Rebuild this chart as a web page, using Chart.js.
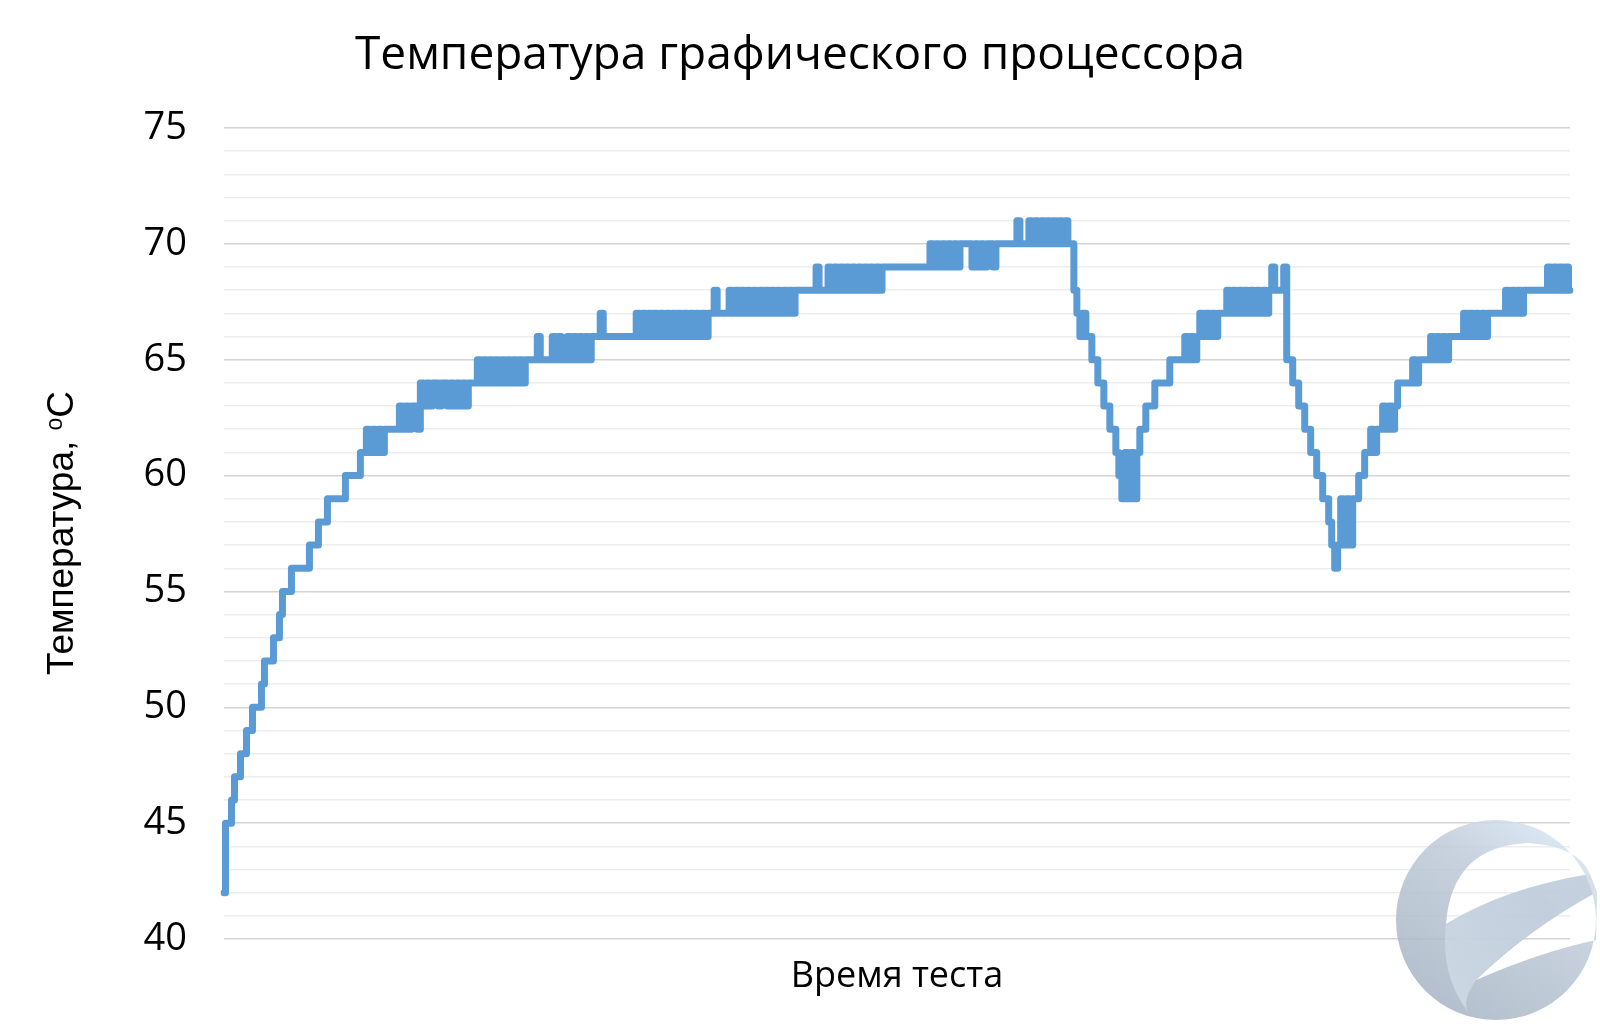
<!DOCTYPE html>
<html lang="ru">
<head>
<meta charset="UTF-8">
<title>Температура графического процессора</title>
<script src="https://cdn.jsdelivr.net/npm/chart.js"></script>
<style>
    html, body {
        margin: 0;
        padding: 0;
        background: #ffffff;
    }
    #wrap {
        width: 1600px;
        height: 1028px;
    }
</style>
</head>
<body>
<div id="wrap">
    <canvas id="gpuChart" width="1600" height="1028"></canvas>
</div>
<script>
    // подписи
    const chartTitle = 'Температура графического процессора';
    const xTitle = 'Время теста';
    const yTitleMain = 'Температура, ';
    const yTitleSup = 'o';
    const yTitleUnit = 'C';

    // шкала Y
    const yMin = 40;
    const yMax = 75;
    const yMajor = 5;

    // температура GPU по ходу теста
    const gpuTemp = [
        42, 45, 45, 46, 47, 47, 48, 48, 49, 49,
        50, 50, 50, 51, 52, 52, 52, 53, 53, 54, 55, 55, 55,
        56, 56, 56, 56, 56, 56, 57, 57, 57, 58, 58, 58,
        59, 59, 59, 59, 59, 59, 60, 60, 60, 60, 60, 61, 61,
        62, 61, 62, 61, 62, 61, 62, 62, 62, 62, 62,
        63, 62, 63, 62, 63, 63, 62, 64, 63, 64, 63, 64, 64, 63, 64, 64,
        63, 64, 63, 64, 63, 64, 63, 64, 64, 64,
        65, 64, 65, 64, 65, 64, 65, 64, 65, 64, 65, 64, 65, 64, 65, 64, 65,
        65, 65, 65, 66, 65, 65, 65, 65, 66, 65, 66, 65, 65,
        66, 65, 66, 65, 66, 65, 66, 65, 66, 66, 66, 67,
        66, 66, 66, 66, 66, 66, 66, 66, 66, 66, 66,
        67, 66, 67, 66, 67, 66, 67, 66, 67, 66, 67, 66, 67, 66, 67, 66, 67, 66, 67, 66, 67,
        66, 67, 66, 67, 67, 68, 67, 67, 67, 67,
        68, 67, 68, 67, 68, 67, 68, 67, 68, 67, 68, 67, 68, 67, 68, 67, 68, 67, 68, 67, 68, 67,
        68, 68, 68, 68, 68, 68, 68, 69, 68, 68, 68,
        69, 68, 69, 68, 69, 68, 69, 68, 69, 68, 69, 68, 69, 68, 69, 68, 69, 68,
        69, 69, 69, 69, 69, 69, 69, 69, 69, 69, 69, 69, 69, 69, 69, 69,
        70, 69, 70, 69, 70, 69, 70, 69, 70, 69, 70, 70, 70, 70,
        69, 70, 69, 70, 69, 70, 70, 69, 70, 70, 70, 70, 70, 70, 70, 71, 70, 70, 70,
        71, 70, 71, 70, 71, 70, 71, 70, 71, 70, 71, 70, 71, 70,
        70, 68, 67, 66, 67, 66, 66, 65, 65, 64, 64, 63, 63, 62, 62, 61,
        60, 59, 61, 59, 61, 59, 61, 62, 62, 63, 63, 63,
        64, 64, 64, 64, 64, 65, 65, 65, 65, 65, 66, 65, 66, 65, 66, 67, 66, 67, 66, 67, 66, 67, 67, 67,
        68, 67, 68, 67, 68, 67, 68, 67, 68, 67, 68, 67, 68, 67, 68, 69, 68, 68, 68, 69,
        65, 65, 64, 64, 63, 63, 62, 62, 61, 61, 60, 60, 59, 59, 58, 57, 56, 57, 59, 57, 59, 57, 59, 59, 60, 60,
        61, 61, 62, 61, 62, 62, 63, 62, 63, 62, 63, 64, 64, 64, 64, 64, 65, 64, 65, 65, 65, 65,
        66, 65, 66, 65, 66, 65, 66, 66, 66, 66, 66,
        67, 66, 67, 66, 67, 66, 67, 66, 67, 67, 67, 67, 67, 67,
        68, 67, 68, 67, 68, 67, 68, 68, 68, 68, 68, 68, 68, 68,
        69, 68, 69, 68, 69, 68, 69, 68
    ];
    const sampleNo = gpuTemp.map((v, i) => i + 1);

    // логотип в правом нижнем углу
    const drawLogo = (ctx) => {
        const cx = 1496, cy = 920, r = 100;
        ctx.save();
        ctx.globalAlpha = 0.88;
        const g = ctx.createLinearGradient(1560, 830, 1430, 1010);
        g.addColorStop(0, '#d7e5f1');
        g.addColorStop(0.35, '#c0ccda');
        g.addColorStop(1, '#a8b4c4');

        // круг минус «глаз» и нижний клин
        ctx.beginPath();
        ctx.arc(cx, cy, r, 0, Math.PI * 2);
        ctx.moveTo(1446, 924);
        ctx.quadraticCurveTo(1452, 846, 1528, 843);
        ctx.quadraticCurveTo(1578, 846, 1590, 874);
        ctx.quadraticCurveTo(1505, 888, 1446, 924);
        ctx.closePath();
        ctx.moveTo(1476, 980);
        ctx.quadraticCurveTo(1530, 928, 1597, 892);
        ctx.lineTo(1596, 940);
        ctx.quadraticCurveTo(1540, 952, 1476, 980);
        ctx.closePath();
        ctx.fillStyle = g;
        ctx.fill('evenodd');

        // полоса «завитка»: светлее слева, серее справа
        const s = ctx.createLinearGradient(1450, 990, 1597, 880);
        s.addColorStop(0, 'rgba(214, 226, 238, 0.75)');
        s.addColorStop(1, 'rgba(180, 193, 208, 0.6)');
        ctx.beginPath();
        ctx.moveTo(1446, 924);
        ctx.quadraticCurveTo(1505, 888, 1590, 874);
        ctx.lineTo(1597, 892);
        ctx.quadraticCurveTo(1530, 928, 1476, 980);
        ctx.quadraticCurveTo(1462, 1000, 1468, 1012);
        ctx.quadraticCurveTo(1440, 975, 1446, 924);
        ctx.closePath();
        ctx.fillStyle = s;
        ctx.fill();
        ctx.restore();
    };

    const textPlugin = {
        id: 'chartTexts',
        afterDraw(chart) {
            const ctx = chart.ctx;
            const area = chart.chartArea;
            drawLogo(ctx);

            ctx.save();
            ctx.fillStyle = '#000000';
            ctx.textBaseline = 'alphabetic';
            ctx.textAlign = 'center';
            ctx.font = '46px "Open Sans"';
            ctx.fillText(chartTitle, 800, 69);

            ctx.font = '36px "Open Sans"';
            ctx.fillText(xTitle, (area.left + area.right) / 2, 987);

            // подпись оси Y с надстрочной «o»
            ctx.translate(73, 533);
            ctx.rotate(-Math.PI / 2);
            ctx.textAlign = 'left';
            const big = '37px "Liberation Sans"';
            const small = '23px "Liberation Sans"';
            ctx.font = big;
            const w1 = ctx.measureText(yTitleMain).width;
            const w3 = ctx.measureText(yTitleUnit).width;
            ctx.font = small;
            const w2 = ctx.measureText(yTitleSup).width;
            const x0 = -(w1 + w2 + w3) / 2;
            ctx.font = big;
            ctx.fillText(yTitleMain, x0, 0);
            ctx.font = small;
            ctx.fillText(yTitleSup, x0 + w1, -11);
            ctx.font = big;
            ctx.fillText(yTitleUnit, x0 + w1 + w2, 0);
            ctx.restore();
        }
    };

    new Chart(document.getElementById('gpuChart'), {
        type: 'line',
        data: {
            labels: sampleNo,
            datasets: [{
                data: gpuTemp,
                borderColor: '#5b9bd5',
                borderWidth: 7,
                pointRadius: 0,
                stepped: 'middle',
                fill: false,
                borderJoinStyle: 'round',
                borderCapStyle: 'round'
            }]
        },
        options: {
            responsive: false,
            animation: false,
            layout: {
                padding: { top: 128, right: 30, bottom: 89, left: 0 }
            },
            plugins: {
                legend: { display: false },
                tooltip: { enabled: false },
                title: { display: false }
            },
            scales: {
                x: {
                    display: false
                },
                y: {
                    min: yMin,
                    max: yMax,
                    afterFit: (scale) => { scale.width = 224; },
                    border: { display: false },
                    grid: {
                        drawTicks: false,
                        color: (c) => (c.tick && c.tick.value % yMajor === 0) ? '#d4d4d4' : '#ededed',
                        lineWidth: 1.5
                    },
                    ticks: {
                        stepSize: 1,
                        autoSkip: false,
                        padding: 37,
                        color: '#000000',
                        font: { family: 'Open Sans', size: 38 },
                        callback: (v) => (v % yMajor === 0 ? v : '')
                    }
                }
            }
        },
        plugins: [textPlugin]
    });
</script>
</body>
</html>
